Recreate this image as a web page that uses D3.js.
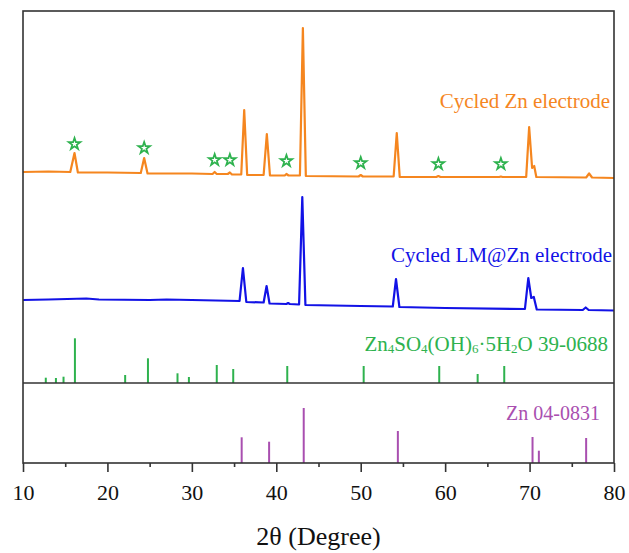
<!DOCTYPE html>
<html>
<head>
<meta charset="utf-8">
<script src="https://cdn.jsdelivr.net/npm/d3@7"></script>
<style>
  body { margin: 0; background: #fff; }
  text { font-family: "Liberation Serif", "Times New Roman", serif; }
</style>
</head>
<body>
<script>
// XRD patterns, 2theta in degrees, intensity in a.u. (upper panel)
let orangeTheta = [10, 13, 15.6, 16.1, 16.5, 20, 23.95, 24.35, 24.75, 30, 32.45, 32.7, 32.95, 34.25, 34.5, 34.75,
  35.85, 36.2, 36.55, 38.5, 38.88, 39.25, 41.0, 41.2, 41.45, 42.8, 43.15, 43.5, 49.75, 50.0, 50.25,
  53.9, 54.27, 54.62, 58.95, 59.2, 59.45, 66.4, 66.6, 66.8, 69.6, 69.95, 70.3, 70.55, 70.8, 76.7, 77.05, 77.4, 80];
let orangeValues = [211, 211.5, 211, 230, 210.5, 210.5, 210, 225, 209.5, 209.5, 209, 211, 209, 209, 210.5, 208.5,
  208.5, 273, 208, 208, 249, 207.5, 207.5, 209, 207.5, 207.5, 355, 207, 206.5, 208, 206.5,
  206.5, 250, 206, 206, 207, 206, 206, 206.5, 206, 206, 256, 215, 217, 206, 205.5, 209.5, 205.5, 205];

let blueTheta = [10, 13, 17.5, 19, 25, 27, 30, 35.65, 36.05, 36.45, 38.5, 38.85, 39.2, 41.2, 41.4, 41.6,
  42.7, 43.08, 43.45, 50, 53.8, 54.18, 54.58, 60, 69.45, 69.85, 70.2, 70.5, 70.85, 76.3, 76.65, 77.0, 80];
let blueValues = [83, 83.5, 84.5, 83.5, 83, 83.5, 83, 82, 115, 81, 80.5, 97, 79.5, 79, 80, 79,
  78.5, 186, 78, 77, 76.5, 104, 76, 75, 74, 105, 85, 86, 73.5, 73, 75.5, 73, 72.5];

// Zn4SO4(OH)6·5H2O 39-0688 reference lines
let znsTheta = [12.7, 13.9, 14.8, 16.15, 22.1, 24.8, 28.3, 29.65, 32.95, 34.9, 41.3, 50.35, 59.3, 63.85, 67.0];
let znsValues = [5.3, 5, 6.3, 44.7, 8, 24.7, 9.7, 6, 18, 14, 17, 17, 17, 9, 17];

// Zn 04-0831 reference lines (lower panel)
let znTheta = [35.9, 39.15, 43.25, 54.4, 70.35, 71.1, 76.7];
let znValues = [25.7, 21.3, 55, 32, 26, 12.3, 25];

// star markers for Zn4SO4(OH)6·5H2O peaks in the cycled Zn pattern
let starTheta = [16.1, 24.35, 32.7, 34.5, 41.2, 50.0, 59.2, 66.6];
let starValues = [239, 235, 223, 223, 222, 220, 219, 219];

let xTicks = [10, 20, 30, 40, 50, 60, 70, 80];
let xMinorTicks = [15, 25, 35, 45, 55, 65, 75];

let margin = {top: 11, left: 23, right: 15, bottom: 90};
let width = 629 - margin.left - margin.right;
let height = 553 - margin.top - margin.bottom;
let splitY = 372; // separator between panels, relative to top

let svg = d3.select("body").append("svg")
  .attr("width", 629)
  .attr("height", 553)
  .append("g")
  .attr("transform", "translate(" + margin.left + "," + margin.top + ")");

let x = d3.scaleLinear().domain([10, 80]).range([0, width]);
let yTop = d3.scaleLinear().domain([0, 372]).range([splitY, 0]);
let yBottom = d3.scaleLinear().domain([0, 80]).range([height, splitY]);

let colors = {orange: "#f5861f", blue: "#1212e6", green: "#2eb24e", purple: "#a94fb0"};

// patterns
function drawPattern(thetas, values, color) {
  let pts = thetas.map(function(t, i) { return [t, values[i]]; });
  svg.append("path")
    .datum(pts)
    .attr("fill", "none")
    .attr("stroke", color)
    .attr("stroke-width", 2.2)
    .attr("stroke-linejoin", "round")
    .attr("d", d3.line()
      .x(function(d) { return x(d[0]); })
      .y(function(d) { return yTop(d[1]); }));
}
drawPattern(orangeTheta, orangeValues, colors.orange);
drawPattern(blueTheta, blueValues, colors.blue);

// reference sticks
function drawSticks(thetas, values, yScale, color) {
  svg.selectAll(null)
    .data(thetas)
    .enter().append("line")
    .attr("x1", function(d) { return x(d); })
    .attr("x2", function(d) { return x(d); })
    .attr("y1", yScale(0))
    .attr("y2", function(d, i) { return yScale(values[i]); })
    .attr("stroke", color)
    .attr("stroke-width", 2);
}
drawSticks(znsTheta, znsValues, yTop, colors.green);
drawSticks(znTheta, znValues, yBottom, colors.purple);

// stars
svg.selectAll(".star")
  .data(starTheta)
  .enter().append("path")
  .attr("class", "star")
  .attr("transform", function(d, i) { return "translate(" + x(d) + "," + yTop(starValues[i]) + ")"; })
  .attr("d", d3.symbol().type(d3.symbolStar).size(42))
  .attr("fill", "#fff")
  .attr("stroke", colors.green)
  .attr("stroke-width", 1.7);

// frame and separator
svg.append("rect")
  .attr("width", width)
  .attr("height", height)
  .attr("fill", "none")
  .attr("stroke", "#333")
  .attr("stroke-width", 1.6);
svg.append("line")
  .attr("x1", 0).attr("x2", width)
  .attr("y1", splitY).attr("y2", splitY)
  .attr("stroke", "#333")
  .attr("stroke-width", 1.6);

// x axis
let xAxis = svg.append("g")
  .attr("transform", "translate(0," + height + ")")
  .call(d3.axisBottom(x).tickValues(xTicks).tickSize(9).tickFormat(d3.format("d")));
xAxis.select(".domain").remove();
xAxis.selectAll(".tick line").attr("stroke", "#333").attr("stroke-width", 1.6);
xAxis.selectAll(".tick text")
  .attr("y", 37).attr("dy", 0)
  .style("font-size", "22px")
  .attr("fill", "#111");

svg.append("g")
  .attr("transform", "translate(0," + height + ")")
  .call(d3.axisBottom(x).tickValues(xMinorTicks).tickSize(4).tickFormat(""))
  .call(function(g) {
    g.select(".domain").remove();
    g.selectAll(".tick line").attr("stroke", "#333").attr("stroke-width", 1.6);
  });

svg.append("text")
  .attr("x", width / 2)
  .attr("y", height + 82)
  .attr("text-anchor", "middle")
  .style("font-size", "26px")
  .attr("fill", "#111")
  .text("2θ (Degree)");

// labels
svg.append("text")
  .attr("x", 587).attr("y", 97)
  .attr("text-anchor", "end")
  .style("font-size", "21px")
  .attr("fill", colors.orange)
  .text("Cycled Zn electrode");

svg.append("text")
  .attr("x", 589).attr("y", 251)
  .attr("text-anchor", "end")
  .style("font-size", "21px")
  .attr("fill", colors.blue)
  .text("Cycled LM@Zn electrode");

let greenLabel = svg.append("text")
  .attr("x", 585).attr("y", 340)
  .attr("text-anchor", "end")
  .style("font-size", "21px")
  .attr("fill", colors.green);
let parts = [["Zn", false], ["4", true], ["SO", false], ["4", true], ["(OH)", false], ["6", true],
  ["·5H", false], ["2", true], ["O 39-0688", false]];
parts.forEach(function(p) {
  greenLabel.append("tspan")
    .style("font-size", p[1] ? "13px" : "21px")
    .attr("dy", p[1] ? 2 : -2)
    .text(p[0]);
});
greenLabel.select("tspan").attr("dy", 0);

svg.append("text")
  .attr("x", 577).attr("y", 409)
  .attr("text-anchor", "end")
  .style("font-size", "20px")
  .attr("fill", colors.purple)
  .text("Zn 04-0831");
</script>
</body>
</html>
